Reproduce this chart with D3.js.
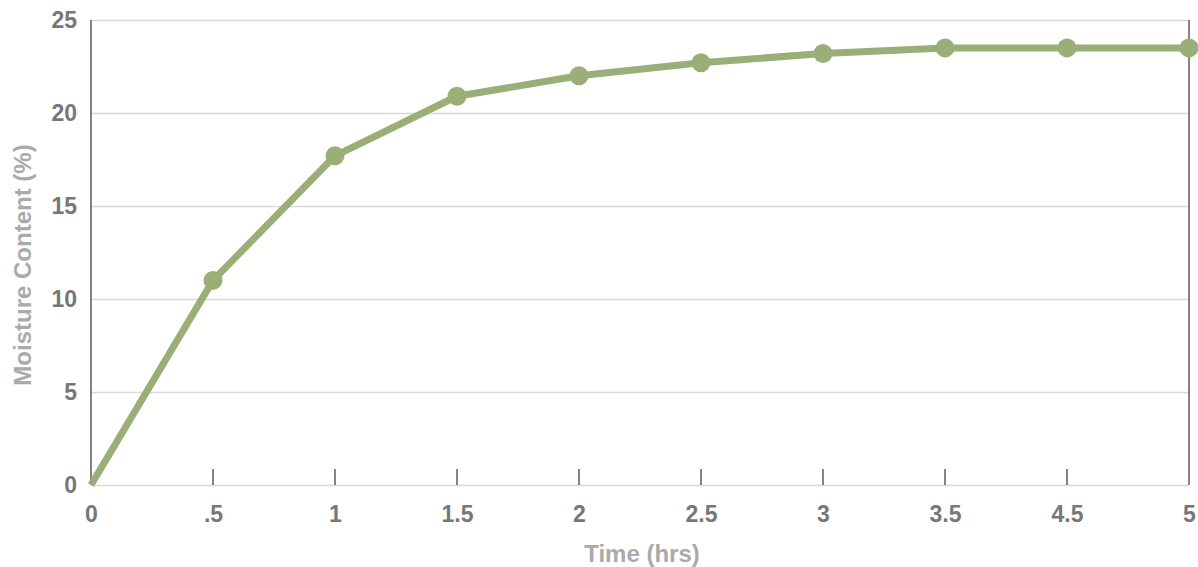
<!DOCTYPE html>
<html><head><meta charset="utf-8">
<script src="https://cdn.jsdelivr.net/npm/d3@7"></script>
<style>
html,body{margin:0;padding:0;background:#fff;}
svg{display:block;font-family:"Liberation Sans",Arial,sans-serif;font-weight:bold;}
</style></head>
<body>
<svg id="chart" width="1198" height="567"></svg>
<script>
const categories = ["0", ".5", "1", "1.5", "2", "2.5", "3", "3.5", "4.5", "5"];
const moisture = [0, 11.0, 17.7, 20.9, 22.0, 22.7, 23.2, 23.5, 23.5, 23.5];
const yTicks = [0, 5, 10, 15, 20, 25];
const xTitle = "Time (hrs)";
const yTitle = "Moisture Content (%)";

(function () {
const svg = d3.select("#chart");
const mLeft = 91, mRight = 1189, mTop = 20, mBottom = 485;

const x = d3.scalePoint().domain(categories).range([mLeft, mRight]).padding(0);
const y = d3.scaleLinear().domain([0, 25]).range([mBottom, mTop]);

// gridlines
svg.append("g")
  .attr("transform", `translate(${mLeft},0)`)
  .call(d3.axisLeft(y).tickValues(yTicks).tickSize(-(mRight - mLeft)).tickFormat(""))
  .call(g => g.select(".domain").remove())
  .call(g => g.selectAll("line").attr("stroke", "#d9d9d9").attr("stroke-width", 1.5));

// y labels
svg.append("g")
  .attr("transform", `translate(${mLeft},0)`)
  .call(d3.axisLeft(y).tickValues(yTicks).tickSize(0).tickPadding(14))
  .call(g => g.select(".domain").remove())
  .call(g => g.selectAll("text").attr("fill", "#777").attr("font-size", 23)
    .attr("font-family", "Liberation Sans, Arial, sans-serif").attr("font-weight", "bold"));

// left & right axis lines
svg.append("line").attr("x1", mLeft).attr("x2", mLeft).attr("y1", mTop).attr("y2", mBottom)
  .attr("stroke", "#333").attr("stroke-width", 1.2);
svg.append("line").attr("x1", mRight).attr("x2", mRight).attr("y1", mTop).attr("y2", mBottom)
  .attr("stroke", "#333").attr("stroke-width", 1.2);

// x labels
const xAxis = svg.append("g")
  .attr("transform", `translate(0,${mBottom})`)
  .call(d3.axisBottom(x).tickSize(0).tickPadding(21))
  .call(g => g.select(".domain").remove());
xAxis.selectAll("text").attr("fill", "#777").attr("font-size", 23)
  .attr("font-family", "Liberation Sans, Arial, sans-serif").attr("font-weight", "bold");
// inward ticks
svg.append("g").selectAll("line")
  .data(categories.slice(1, -1))
  .join("line")
  .attr("x1", d => x(d)).attr("x2", d => x(d))
  .attr("y1", mBottom - 16).attr("y2", mBottom)
  .attr("stroke", "#333").attr("stroke-width", 1.2);

// line
const data = categories.map((c, i) => ({c, v: moisture[i]}));
svg.append("path")
  .datum(data)
  .attr("fill", "none")
  .attr("stroke", "#9aaf78")
  .attr("stroke-width", 7)
  .attr("stroke-linejoin", "round")
  .attr("d", d3.line().x(d => x(d.c)).y(d => y(d.v)));

svg.append("g").selectAll("circle")
  .data(data.slice(1))
  .join("circle")
  .attr("cx", d => x(d.c)).attr("cy", d => y(d.v))
  .attr("r", 9.5).attr("fill", "#9aaf78");

// titles
svg.append("text").attr("x", 642).attr("y", 562)
  .attr("text-anchor", "middle").attr("fill", "#aaa").attr("font-size", 24)
  .text(xTitle);
svg.append("text")
  .attr("transform", "translate(31,265) rotate(-90)")
  .attr("text-anchor", "middle").attr("fill", "#aaa").attr("font-size", 24)
  .text(yTitle);
})();
</script>
</body></html>
